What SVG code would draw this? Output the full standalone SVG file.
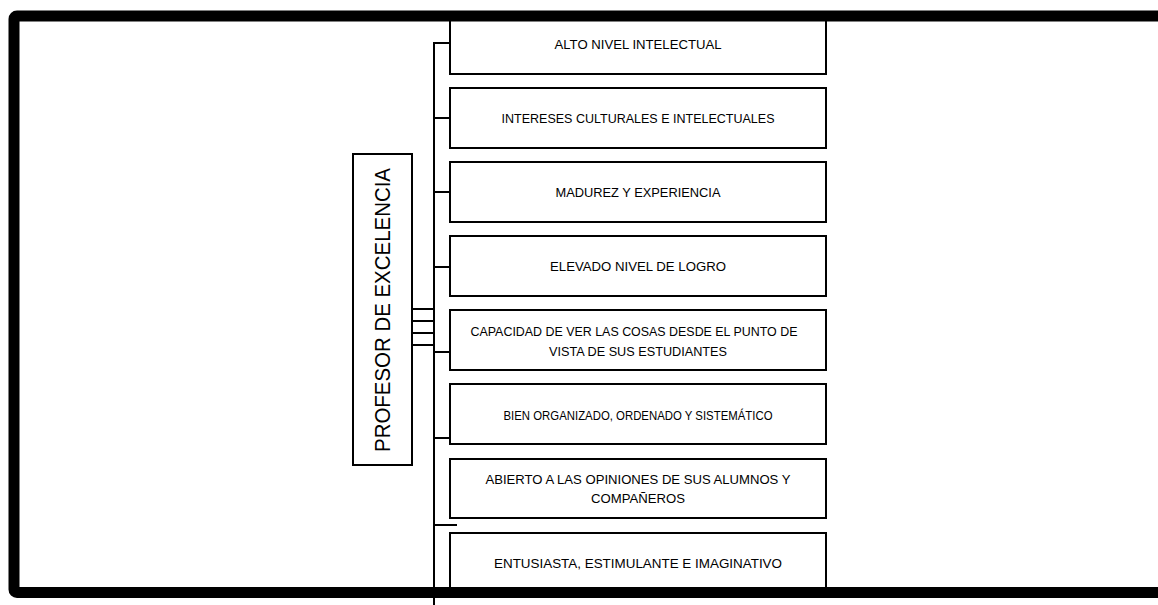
<svg xmlns="http://www.w3.org/2000/svg" width="1158" height="605" viewBox="0 0 1158 605">
  <style>
    .box { fill: #fff; stroke: #000; stroke-width: 2; }
    .lbl { font-family: "Liberation Sans", Arial, sans-serif; font-size: 13.5px; fill: #000; text-anchor: middle; }
    .title { font-family: "Liberation Sans", Arial, sans-serif; font-size: 22px; fill: #000; text-anchor: middle; }
    .wire { stroke: #000; stroke-width: 2; fill: none; }
  </style>

  <!-- connectors: spine, branches to each trait, links from the main box -->
  <g id="connectors">
    <line class="wire" x1="434" y1="42" x2="434" y2="605"/>
    <line class="wire" x1="433" y1="43" x2="451" y2="43"/>
    <line class="wire" x1="434" y1="118" x2="451" y2="118"/>
    <line class="wire" x1="434" y1="192" x2="451" y2="192"/>
    <line class="wire" x1="434" y1="267" x2="451" y2="267"/>
    <line class="wire" x1="434" y1="352" x2="451" y2="352"/>
    <line class="wire" x1="434" y1="438" x2="451" y2="438"/>
    <line class="wire" x1="434" y1="525" x2="457" y2="525"/>
    <line class="wire" x1="412" y1="309" x2="434" y2="309" stroke-width="3"/>
    <line class="wire" x1="412" y1="321" x2="434" y2="321"/>
    <line class="wire" x1="412" y1="333" x2="434" y2="333"/>
    <line class="wire" x1="412" y1="345" x2="434" y2="345"/>
  </g>

  <g id="profesor">
    <rect class="box" x="353" y="154" width="59" height="311"/>
    <text class="title" transform="translate(390,310) rotate(-90)" textLength="284" lengthAdjust="spacingAndGlyphs">PROFESOR DE EXCELENCIA</text>
  </g>

  <g id="alto-nivel">
    <rect class="box" x="450" y="14" width="376" height="60"/>
    <text class="lbl" x="638" y="49" textLength="167" lengthAdjust="spacingAndGlyphs">ALTO NIVEL INTELECTUAL</text>
  </g>

  <g id="intereses">
    <rect class="box" x="450" y="88" width="376" height="60"/>
    <text class="lbl" x="638" y="123" textLength="273" lengthAdjust="spacingAndGlyphs">INTERESES CULTURALES E INTELECTUALES</text>
  </g>

  <g id="madurez">
    <rect class="box" x="450" y="162" width="376" height="60"/>
    <text class="lbl" x="638" y="197" textLength="165" lengthAdjust="spacingAndGlyphs">MADUREZ Y EXPERIENCIA</text>
  </g>

  <g id="logro">
    <rect class="box" x="450" y="236" width="376" height="60"/>
    <text class="lbl" x="638" y="271" textLength="176" lengthAdjust="spacingAndGlyphs">ELEVADO NIVEL DE LOGRO</text>
  </g>

  <g id="capacidad">
    <rect class="box" x="450" y="310" width="376" height="60"/>
    <text class="lbl" x="634" y="336" textLength="327" lengthAdjust="spacingAndGlyphs">CAPACIDAD DE VER LAS COSAS DESDE EL PUNTO DE</text>
    <text class="lbl" x="638" y="356" textLength="178" lengthAdjust="spacingAndGlyphs">VISTA DE SUS ESTUDIANTES</text>
  </g>

  <g id="organizado">
    <rect class="box" x="450" y="384" width="376" height="60"/>
    <text class="lbl" x="638" y="420" textLength="269" lengthAdjust="spacingAndGlyphs">BIEN ORGANIZADO, ORDENADO Y SISTEMÁTICO</text>
  </g>

  <g id="abierto">
    <rect class="box" x="450" y="459" width="376" height="59"/>
    <text class="lbl" x="638" y="484" textLength="305" lengthAdjust="spacingAndGlyphs">ABIERTO A LAS OPINIONES DE SUS ALUMNOS Y</text>
    <text class="lbl" x="638" y="503" textLength="94" lengthAdjust="spacingAndGlyphs">COMPAÑEROS</text>
  </g>

  <g id="entusiasta">
    <rect class="box" x="450" y="533" width="376" height="60"/>
    <text class="lbl" x="638" y="568" textLength="288" lengthAdjust="spacingAndGlyphs">ENTUSIASTA, ESTIMULANTE E IMAGINATIVO</text>
  </g>

  <!-- heavy page frame, running off the right edge -->
  <rect id="frame" x="14" y="16" width="1200" height="576.5" rx="3" fill="none" stroke="#000" stroke-width="11"/>
</svg>
